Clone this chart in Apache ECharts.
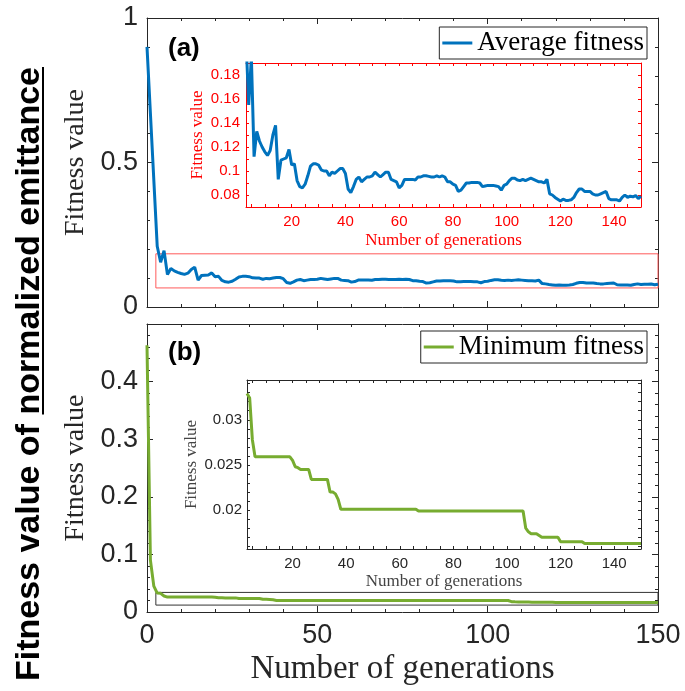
<!DOCTYPE html>
<html>
<head>
<meta charset="utf-8">
<script src="https://cdn.jsdelivr.net/npm/echarts@6/dist/echarts.min.js"></script>
<style>
  html, body { margin: 0; padding: 0; background: #fff; }
  #chart { width: 685px; height: 691px; }
</style>
</head>
<body>
<div id="chart"></div>
<script>
// Average fitness of the population per generation (generation = array index, 0..150)
const avgFitness = [
  0.900, 0.670, 0.440, 0.210, 0.155, 0.195, 0.112, 0.133, 0.125, 0.120,
  0.116, 0.113, 0.117, 0.130, 0.138, 0.093, 0.109, 0.110, 0.111, 0.118,
  0.105, 0.106, 0.092, 0.087, 0.086, 0.089, 0.096, 0.104, 0.106, 0.106,
  0.105, 0.101, 0.100, 0.100, 0.096, 0.099, 0.098, 0.100, 0.102, 0.102,
  0.098, 0.085, 0.082, 0.087, 0.093, 0.095, 0.091, 0.093, 0.095, 0.095,
  0.096, 0.099, 0.097, 0.095, 0.097, 0.099, 0.099, 0.093, 0.092, 0.091,
  0.086, 0.088, 0.093, 0.093, 0.093, 0.093, 0.0925, 0.095, 0.095, 0.096,
  0.096, 0.0955, 0.095, 0.095, 0.096, 0.095, 0.096, 0.095, 0.091, 0.091,
  0.089, 0.088, 0.083, 0.084, 0.087, 0.090, 0.090, 0.0905, 0.0905, 0.0905,
  0.090, 0.087, 0.0875, 0.088, 0.088, 0.088, 0.0875, 0.087, 0.084, 0.088,
  0.089, 0.092, 0.094, 0.094, 0.0925, 0.092, 0.093, 0.092, 0.093, 0.094,
  0.093, 0.092, 0.091, 0.091, 0.090, 0.093, 0.081, 0.080, 0.078, 0.0765,
  0.075, 0.0765, 0.0755, 0.0755, 0.076, 0.078, 0.082, 0.085, 0.085, 0.083,
  0.083, 0.083, 0.081, 0.080, 0.080, 0.081, 0.082, 0.083, 0.077, 0.076,
  0.076, 0.076, 0.075, 0.078, 0.080, 0.078, 0.079, 0.0785, 0.0795, 0.077,
  0.079
];

// Best (minimum) fitness per generation
const minFitness = [
  0.463, 0.090, 0.045, 0.0329, 0.0324, 0.0278, 0.0259, 0.0259, 0.0259, 0.0259,
  0.0259, 0.0259, 0.0259, 0.0259, 0.0259, 0.0259, 0.0259, 0.0259, 0.0259, 0.0259,
  0.0255, 0.0248, 0.0247, 0.0245, 0.0245, 0.0245, 0.0245, 0.0234, 0.0234, 0.0234,
  0.0234, 0.0234, 0.0234, 0.0234, 0.0220, 0.0220, 0.0218, 0.0212, 0.0201, 0.0201,
  0.0201, 0.0201, 0.0201, 0.0201, 0.0201, 0.0201, 0.0201, 0.0201, 0.0201, 0.0201,
  0.0201, 0.0201, 0.0201, 0.0201, 0.0201, 0.0201, 0.0201, 0.0201, 0.0201, 0.0201,
  0.0201, 0.0201, 0.0201, 0.0201, 0.0201, 0.0201, 0.0201, 0.0199, 0.0199, 0.0199,
  0.0199, 0.0199, 0.0199, 0.0199, 0.0199, 0.0199, 0.0199, 0.0199, 0.0199, 0.0199,
  0.0199, 0.0199, 0.0199, 0.0199, 0.0199, 0.0199, 0.0199, 0.0199, 0.0199, 0.0199,
  0.0199, 0.0199, 0.0199, 0.0199, 0.0199, 0.0199, 0.0199, 0.0199, 0.0199, 0.0199,
  0.0199, 0.0199, 0.0199, 0.0199, 0.0199, 0.0199, 0.0199, 0.0180, 0.0176, 0.0174,
  0.0174, 0.0174, 0.0172, 0.0170, 0.0170, 0.0170, 0.0170, 0.0170, 0.0170, 0.0170,
  0.0165, 0.0165, 0.0165, 0.0165, 0.0165, 0.0165, 0.0165, 0.0165, 0.0165, 0.0163,
  0.0163, 0.0163, 0.0163, 0.0163, 0.0163, 0.0163, 0.0163, 0.0163, 0.0163, 0.0163,
  0.0163, 0.0163, 0.0163, 0.0163, 0.0163, 0.0163, 0.0163, 0.0163, 0.0163, 0.0163,
  0.0163
];

// Tick values for the zoomed views
const insetTicksX = [5, 10, 15, 20, 25, 30, 35, 40, 45, 50, 55, 60, 65, 70, 75,
  80, 85, 90, 95, 100, 105, 110, 115, 120, 125, 130, 135, 140, 145, 150];
const insetLabelsX = [20, 40, 60, 80, 100, 120, 140];
const insetATicksY = [0.07, 0.08, 0.09, 0.10, 0.11, 0.12, 0.13, 0.14, 0.15, 0.16, 0.17, 0.18, 0.19];
const insetALabelsY = [0.08, 0.1, 0.12, 0.14, 0.16, 0.18];
const insetBTicksY = [0.016, 0.017, 0.018, 0.019, 0.020, 0.021, 0.022, 0.023, 0.024, 0.025,
  0.026, 0.027, 0.028, 0.029, 0.030, 0.031, 0.032, 0.033, 0.034];
const insetBLabelsY = [0.02, 0.025, 0.03];
const mainBLabelsY = [0, 0.1, 0.2, 0.3, 0.4];

// Axis ranges of the zoomed views and the boxes marking them: [xMin, yMin, xMax, yMax]
const insetARange = [3, 0.07, 150, 0.19];
const insetBRange = [3, 0.0157, 150, 0.0344];
const zoomBoxA = [2.6, 0.066, 150, 0.184];
const zoomBoxB = [2.6, 0.012, 150, 0.034];

const BLUE = '#0072BD';
const GREEN = '#77AC30';
const RED = '#ff0000';
const AXIS = '#262626';
const SANS = '"Liberation Sans", Arial, sans-serif';
const SERIF = '"Liberation Serif", "Times New Roman", serif';

const pairs = arr => arr.map((v, i) => [i, v]);
// zoomed views start at their own first generation
const pairsFrom = (arr, first) => pairs(arr).filter(p => p[0] >= first);

function frameAxis(gridIndex, position, color, extra) {
  const base = {
    type: 'value',
    gridIndex: gridIndex,
    position: position,
    axisLine: { show: true, onZero: false, lineStyle: { color: color, width: 1 } },
    axisTick: { show: true, inside: true, length: 6, lineStyle: { color: color, width: 1 } },
    minorTick: { show: false },
    axisLabel: { show: false },
    splitLine: { show: false },
    nameMoveOverlap: false
  };
  return Object.assign(base, extra || {});
}

// Main panels: 0..150 generations
function mainX(gridIndex, position, withLabels) {
  return frameAxis(gridIndex, position, AXIS, {
    min: 0, max: 150, interval: 50,
    minorTick: { show: true, splitNumber: 5, length: 3, lineStyle: { color: AXIS } },
    axisLabel: { show: withLabels, fontFamily: SANS, fontSize: 27, color: AXIS, margin: 10 },
    name: withLabels ? 'Number of generations' : '',
    nameLocation: 'middle', nameGap: 41,
    nameTextStyle: { fontFamily: SERIF, fontSize: 33, color: AXIS }
  });
}

function insetTicks(vals, color) {
  return { show: true, inside: true, length: 3, customValues: vals, lineStyle: { color: color, width: 1 } };
}

const xAxes = [
  mainX(0, 'bottom', false),
  mainX(0, 'top', false),
  mainX(1, 'bottom', true),
  mainX(1, 'top', false),
  frameAxis(2, 'bottom', RED, {
    min: insetARange[0], max: insetARange[2], z: 11,
    axisTick: insetTicks(insetTicksX, RED),
    axisLabel: { show: true, customValues: insetLabelsX, color: RED, fontFamily: SANS, fontSize: 15, margin: 7 },
    name: 'Number of generations', nameLocation: 'middle', nameGap: 25,
    nameTextStyle: { fontFamily: SERIF, fontSize: 17, color: RED }
  }),
  frameAxis(2, 'top', RED, { min: insetARange[0], max: insetARange[2], z: 11, axisTick: insetTicks(insetTicksX, RED) }),
  frameAxis(3, 'bottom', AXIS, {
    min: insetBRange[0], max: insetBRange[2], z: 11,
    axisTick: insetTicks(insetTicksX, AXIS),
    axisLabel: { show: true, customValues: insetLabelsX, color: AXIS, fontFamily: SANS, fontSize: 15, margin: 7 },
    name: 'Number of generations', nameLocation: 'middle', nameGap: 24,
    nameTextStyle: { fontFamily: SERIF, fontSize: 17, color: '#444' }
  }),
  frameAxis(3, 'top', AXIS, { min: insetBRange[0], max: insetBRange[2], z: 11, axisTick: insetTicks(insetTicksX, AXIS) })
];

const yAxes = [
  frameAxis(0, 'left', AXIS, {
    min: 0, max: 1, interval: 0.5,
    minorTick: { show: true, splitNumber: 5, length: 3, lineStyle: { color: AXIS } },
    axisLabel: { show: true, fontFamily: SANS, fontSize: 27, color: AXIS, margin: 9 },
    name: 'Fitness value', nameLocation: 'middle', nameGap: 57,
    nameTextStyle: { fontFamily: SERIF, fontSize: 28, color: AXIS }
  }),
  frameAxis(0, 'right', AXIS, {
    min: 0, max: 1, interval: 0.5,
    minorTick: { show: true, splitNumber: 5, length: 3, lineStyle: { color: AXIS } }
  }),
  frameAxis(1, 'left', AXIS, {
    min: 0, max: 0.5, interval: 0.1,
    minorTick: { show: true, splitNumber: 5, length: 3, lineStyle: { color: AXIS } },
    axisLabel: { show: true, customValues: mainBLabelsY, fontFamily: SANS, fontSize: 27, color: AXIS, margin: 9 },
    name: 'Fitness value', nameLocation: 'middle', nameGap: 57,
    nameTextStyle: { fontFamily: SERIF, fontSize: 28, color: AXIS }
  }),
  frameAxis(1, 'right', AXIS, {
    min: 0, max: 0.5, interval: 0.1,
    minorTick: { show: true, splitNumber: 5, length: 3, lineStyle: { color: AXIS } }
  }),
  frameAxis(2, 'left', RED, {
    min: insetARange[1], max: insetARange[3], z: 11,
    axisTick: insetTicks(insetATicksY, RED),
    axisLabel: { show: true, customValues: insetALabelsY, color: RED, fontFamily: SANS, fontSize: 15, margin: 6 },
    name: 'Fitness value', nameLocation: 'middle', nameGap: 40,
    nameTextStyle: { fontFamily: SERIF, fontSize: 17, color: RED }
  }),
  frameAxis(2, 'right', RED, { min: insetARange[1], max: insetARange[3], z: 11, axisTick: insetTicks(insetATicksY, RED) }),
  frameAxis(3, 'left', AXIS, {
    min: insetBRange[1], max: insetBRange[3], z: 11,
    axisTick: insetTicks(insetBTicksY, AXIS),
    axisLabel: { show: true, customValues: insetBLabelsY, color: AXIS, fontFamily: SANS, fontSize: 15, margin: 5 },
    name: 'Fitness value', nameLocation: 'middle', nameGap: 47,
    nameTextStyle: { fontFamily: SERIF, fontSize: 17, color: '#444' }
  }),
  frameAxis(3, 'right', AXIS, { min: insetBRange[1], max: insetBRange[3], z: 11, axisTick: insetTicks(insetBTicksY, AXIS) })
];

function boxArea(box, color) {
  return {
    silent: true,
    itemStyle: { color: 'rgba(0,0,0,0)', borderColor: color, borderWidth: 1 },
    data: [[{ coord: [box[0], box[1]] }, { coord: [box[2], box[3]] }]]
  };
}

function legendFor(name, top) {
  return {
    data: [name], right: 38, top: top, selectedMode: false, icon: 'rect',
    backgroundColor: '#fff', borderColor: AXIS, borderWidth: 1, borderRadius: 0,
    padding: [2, 3, 2, 3], itemWidth: 30, itemHeight: 3, z: 20,
    textStyle: { fontFamily: SERIF, fontSize: 27, color: '#000', lineHeight: 28 }
  };
}

// Rotated side title with the underlined part
const SIDE_FONT = 'bold 34px "Liberation Sans", Arial, sans-serif';
const sidePlain = 'Fitness value of ';
const sideUnderlined = 'normalized emittance';
const measureCtx = document.createElement('canvas').getContext('2d');
measureCtx.font = SIDE_FONT;
const wPlain = measureCtx.measureText(sidePlain).width;
const wUnder = measureCtx.measureText(sideUnderlined).width;
const wTotal = wPlain + wUnder;

const option = {
  animation: false,
  backgroundColor: '#fff',
  grid: [
    { left: 147, top: 18, width: 511, height: 289, outerBoundsMode: 'none' },
    { left: 147, top: 324, width: 511, height: 288, outerBoundsMode: 'none' },
    { left: 246, top: 63, width: 395, height: 144, show: true, backgroundColor: '#fff', borderWidth: 0, z: 10, outerBoundsMode: 'none' },
    { left: 247, top: 380, width: 394, height: 169, show: true, backgroundColor: '#fff', borderWidth: 0, z: 10, outerBoundsMode: 'none' }
  ],
  xAxis: xAxes,
  yAxis: yAxes,
  title: [
    { text: '(a)', left: 168, top: 36, padding: 0, textStyle: { fontFamily: SANS, fontWeight: 'bold', fontSize: 26, color: '#000' } },
    { text: '(b)', left: 168, top: 340, padding: 0, textStyle: { fontFamily: SANS, fontWeight: 'bold', fontSize: 26, color: '#000' } }
  ],
  legend: [legendFor('Average fitness', 27), legendFor('Minimum fitness', 331)],
  series: [
    {
      type: 'line', name: 'Average fitness', xAxisIndex: 0, yAxisIndex: 0,
      data: pairs(avgFitness), symbol: 'none', z: 2,
      lineStyle: { color: BLUE, width: 3 }, itemStyle: { color: BLUE },
      markArea: boxArea(zoomBoxA, '#ff5a5a')
    },
    {
      type: 'line', name: 'Minimum fitness', xAxisIndex: 2, yAxisIndex: 2,
      data: pairs(minFitness), symbol: 'none', z: 2,
      lineStyle: { color: GREEN, width: 3 }, itemStyle: { color: GREEN },
      markArea: boxArea(zoomBoxB, '#333')
    },
    {
      type: 'line', name: 'Average fitness', xAxisIndex: 4, yAxisIndex: 4,
      data: pairsFrom(avgFitness, insetARange[0]), symbol: 'none', z: 12, clip: true,
      lineStyle: { color: BLUE, width: 3 }, itemStyle: { color: BLUE }
    },
    {
      type: 'line', name: 'Minimum fitness', xAxisIndex: 6, yAxisIndex: 6,
      data: pairsFrom(minFitness, insetBRange[0]), symbol: 'none', z: 12, clip: true,
      lineStyle: { color: GREEN, width: 3 }, itemStyle: { color: GREEN }
    }
  ],
  graphic: [
    {
      type: 'group', x: 47, y: 374, rotation: Math.PI / 2,
      children: [
        { type: 'text', x: -wTotal / 2, y: 0,
          style: { text: sidePlain, font: SIDE_FONT, fill: '#000', align: 'left', verticalAlign: 'bottom' } },
        { type: 'text', x: -wTotal / 2 + wPlain, y: 0,
          style: { text: sideUnderlined, font: SIDE_FONT, fill: '#000', align: 'left', verticalAlign: 'bottom' } },
        { type: 'line', shape: { x1: -wTotal / 2 + wPlain, y1: -4, x2: wTotal / 2, y2: -4 },
          style: { stroke: '#000', lineWidth: 2 } }
      ]
    }
  ]
};

const chart = echarts.init(document.getElementById('chart'), null, { renderer: 'canvas' });
chart.setOption(option);
</script>
</body>
</html>
